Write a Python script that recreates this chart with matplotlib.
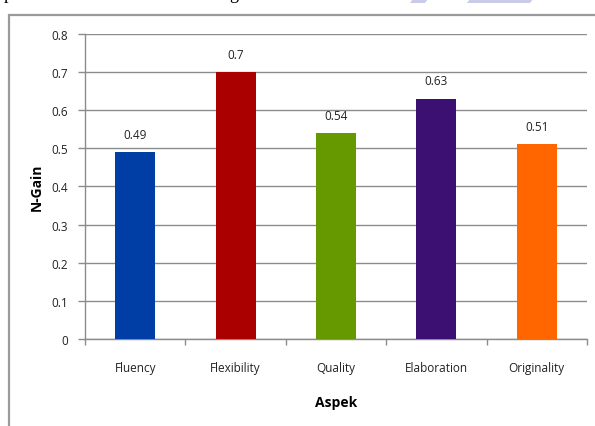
import matplotlib
matplotlib.use("Agg")
import matplotlib.pyplot as plt
from matplotlib.patches import Rectangle, Polygon

categories = ["Fluency", "Flexibility", "Quality", "Elaboration", "Originality"]
values = [0.49, 0.70, 0.54, 0.63, 0.51]
value_labels = ["0.49", "0.7", "0.54", "0.63", "0.51"]
colors = ["#003da5", "#aa0000", "#669900", "#3c0f73", "#ff6600"]
yticks = [0, 0.1, 0.2, 0.3, 0.4, 0.5, 0.6, 0.7, 0.8]
ytick_labels = ["0", "0.1", "0.2", "0.3", "0.4", "0.5", "0.6", "0.7", "0.8"]

plt.rcParams["font.family"] = ["Open Sans", "DejaVu Sans"]

W, H = 595, 427
fig = plt.figure(figsize=(W / 100, H / 100), dpi=100)
fig.patch.set_facecolor("white")

# page fragments above the chart frame
fig.text(4 / W, 1 + 1.5 / H, "p", family="Liberation Serif", fontsize=13,
         va="baseline", ha="left", color="black")
fig.text(229 / W, 1 + 1.5 / H, "g", family="Liberation Serif", fontsize=13,
         va="baseline", ha="left", color="black")
for x0, x1 in [(413, 428), (470, 533)]:
    poly = Polygon([(x0 / W, 1), (x1 / W, 1), ((x1 - 3) / W, 1 - 4 / H),
                    ((x0 - 3) / W, 1 - 4 / H)], closed=True,
                   transform=fig.transFigure, facecolor="#c8cce6",
                   edgecolor="none")
    fig.patches.append(poly)

# chart frame
frame = Rectangle((9 / W, -0.2), 1.2, 1.2 - 16 / H,
                  transform=fig.transFigure, facecolor="none",
                  edgecolor="#9a9a9a", linewidth=1.6)
fig.patches.append(frame)

ax = fig.add_axes([85 / W, (H - 340) / H, (587 - 85) / W, (340 - 34.7) / H])
x = list(range(len(categories)))
ax.bar(x, values, width=0.4, color=colors, zorder=3)

for xi, v, lab in zip(x, values, value_labels):
    ax.annotate(lab, (xi, v), xytext=(0, 8), textcoords="offset points",
                ha="center", va="bottom", fontsize=8.5, color="#222222")

ax.set_xlim(-0.5, len(categories) - 0.5)
ax.set_ylim(0, 0.8)
ax.set_yticks(yticks)
ax.set_yticklabels(ytick_labels)
ax.yaxis.grid(True, color="#8c8c8c", linewidth=1.0, zorder=0)
ax.set_axisbelow(True)

ax.set_xticks(x)
ax.set_xticklabels(categories)
ax.set_xticks([i - 0.5 for i in range(len(categories) + 1)], minor=True)
ax.tick_params(axis="x", which="major", length=0, pad=16, labelsize=8.5,
               labelcolor="#222222")
ax.tick_params(axis="x", which="minor", length=4, color="#8c8c8c", width=1)
ax.tick_params(axis="y", length=5, color="#8c8c8c", width=1, pad=7,
               labelsize=8.5, labelcolor="#222222")

for side in ["top", "right"]:
    ax.spines[side].set_visible(False)
for side in ["left", "bottom"]:
    ax.spines[side].set_color("#8c8c8c")
    ax.spines[side].set_linewidth(1.0)

ax.set_ylabel("N-Gain", fontsize=10, fontweight="bold", labelpad=6)
ax.set_xlabel("Aspek", fontsize=10, fontweight="bold", labelpad=15)

fig.savefig("out.png", dpi=100, facecolor="white")
